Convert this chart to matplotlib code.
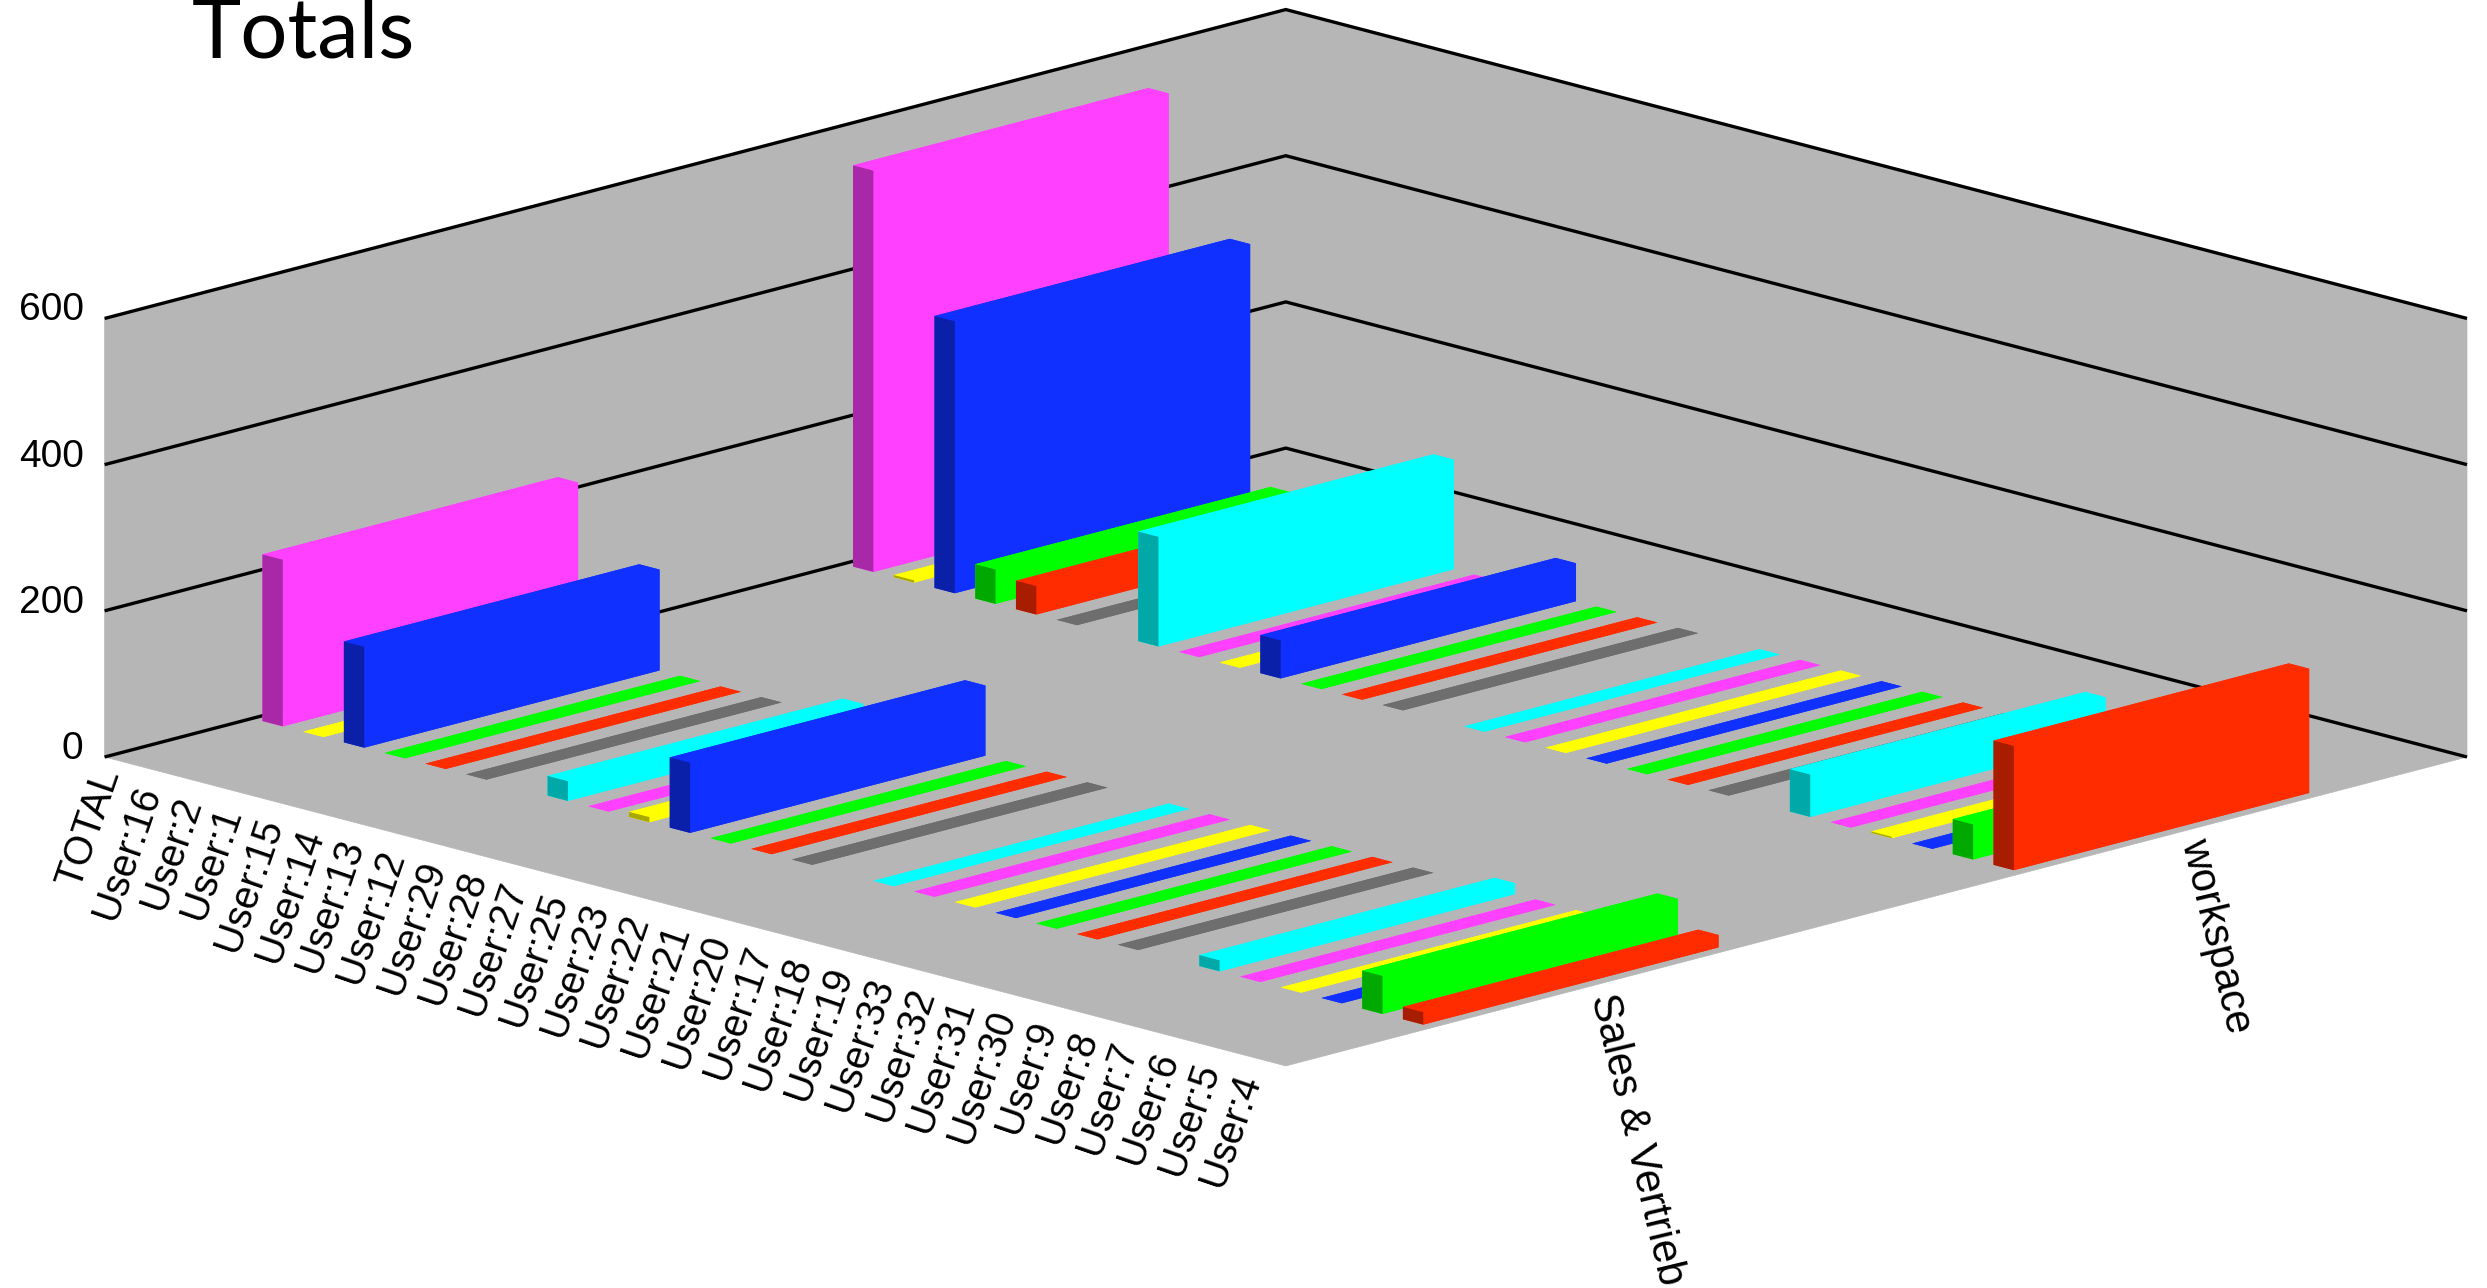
import numpy as np
import matplotlib
matplotlib.use("Agg")
import matplotlib.pyplot as plt
from mpl_toolkits.mplot3d import proj3d
from mpl_toolkits.mplot3d.art3d import Poly3DCollection

users = ["TOTAL", "User:16", "User:2", "User:1", "User:15", "User:14", "User:13", "User:12",
         "User:29", "User:28", "User:27", "User:25", "User:23", "User:22", "User:21", "User:20",
         "User:17", "User:18", "User:19", "User:33", "User:32", "User:31", "User:30", "User:9",
         "User:8", "User:7", "User:6", "User:5", "User:4"]
groups = ["Sales & Vertrieb", "workspace"]
z_ticks = [0, 200, 400, 600]

# None = no bar in that slot
sales = [228, 0, 138, 0, 0, 0, None,
         27, 0, 7, 96, 0, 0, 0, None,
         0, 0, 0, 0, 0, 0, 0, None,
         15, 0, 0, 0, 52, 17]
workspace = [549, 3, 372, 47, 39, 0, None,
             150, 0, 0, 52, 0, 0, 0, None,
             0, 0, 0, 0, 0, 0, 0, None,
             58, 0, 2, 0, 48, 170]

bar_colors = ["#FF40FF", "#FFFF00", "#0F30FF", "#00FF00", "#FF2C00", "#6E6E6E", None,
              "#00FFFF", "#FF40FF", "#FFFF00", "#0F30FF", "#00FF00", "#FF2C00", "#6E6E6E", None,
              "#00FFFF", "#FF40FF", "#FFFF00", "#0F30FF", "#00FF00", "#FF2C00", "#6E6E6E", None,
              "#00FFFF", "#FF40FF", "#FFFF00", "#0F30FF", "#00FF00", "#FF2C00"]
dark_colors = {"#FF40FF": "#A828A8", "#FFFF00": "#A8A800", "#0F30FF": "#0A20A8", "#00FF00": "#00A800",
               "#FF2C00": "#A81D00", "#6E6E6E": "#484848", "#00FFFF": "#00A8A8"}
WALL = "#B6B6B6"
FONT = "Liberation Sans"

W, H = 2487, 1288
fig = plt.figure(figsize=(W / 100, H / 100), dpi=100, facecolor="white")
ax = fig.add_subplot(projection="3d", computed_zorder=False, proj_type="ortho")
ax.set_axis_off()
ax.patch.set_alpha(0)

nx, ny, zmax = len(users), len(groups), z_ticks[-1]

# walls and floor
floor = [[(0, 0, 0), (nx, 0, 0), (nx, ny, 0), (0, ny, 0)],
         [(0, 0, 0), (0, ny, 0), (0, ny, zmax), (0, 0, zmax)],
         [(0, ny, 0), (nx, ny, 0), (nx, ny, zmax), (0, ny, zmax)]]
wall = Poly3DCollection(floor, facecolors=WALL, edgecolors=WALL, linewidths=0.5, zorder=1)
ax.add_collection3d(wall)
wall.set_clip_on(False)
for z in z_ticks:
    line, = ax.plot([0, 0, nx], [0, ny, ny], [z, z, z], color="black", lw=2.4, zorder=2,
                    solid_joinstyle="miter", solid_capstyle="butt")
    line.set_clip_on(False)

# bars, back row first, then left to right
order = 10
for r, row in reversed(list(enumerate([sales, workspace]))):
    for i, v in enumerate(row):
        if v is None:
            continue
        c, d = bar_colors[i], dark_colors[bar_colors[i]]
        # faces: -z, +z, -y, +y, -x, +x
        bar = ax.bar3d(i + 0.25, r + 0.25, 0, 0.5, 0.5, v, color=[c, c, d, c, c, c],
                       shade=False, linewidth=0, edgecolor="none", zorder=order)
        bar.set_clip_on(False)
        order += 1

ax.set_xlim(0, nx, view_margin=0)
ax.set_ylim(0, ny, view_margin=0)
ax.set_zlim(0, zmax, view_margin=0)
ax.set_box_aspect((1, 1, 0.272))
ax.view_init(elev=15.16, azim=-45)

# text, anchored at projected 3D points so that the rotation stays in screen space
def label(x, y, z, s, **kw):
    x2, y2, _ = proj3d.proj_transform(x, y, z, ax.get_proj())
    ax.text2D(x2, y2, s, transform=ax.transData, family=FONT, zorder=500, clip_on=False, **kw)

for z in z_ticks:
    label(-0.515, 0, z + 3.5, str(z), ha="right", va="center", fontsize=28)
for i, name in enumerate(users):
    label(i + 0.5, -0.01, -12 if i == 0 else -22.6, name, ha="right", va="baseline",
          rotation=71, rotation_mode="anchor", fontsize=28.5)
for j, name in enumerate(groups):
    label(nx + 0.5, j + 0.5, 0, name, ha="left", va="center", rotation=-76.5, rotation_mode="anchor", fontsize=30)
fig.text(192 / W, 1 - 57 / H, "Totals", fontsize=60, family="Lato", ha="left", va="baseline")

# fit the box to the frame
def corner_px():
    M = ax.get_proj()
    x, y, _ = proj3d.proj_transform(np.array([0, nx, nx]), np.array([0, 0, ny]), np.zeros(3), M)
    return ax.transData.transform(np.c_[x, y])

side, left, bottom = 2400.0, 40.0, -500.0
for _ in range(4):
    ax.set_position([left / W, bottom / H, side / W, side / H])
    ax.apply_aspect()
    p = corner_px()
    side *= (2467 - 104.6) / (p[2, 0] - p[0, 0])
    ax.set_position([left / W, bottom / H, side / W, side / H])
    ax.apply_aspect()
    p = corner_px()
    left += 104.6 - p[0, 0]
    bottom += (H - 757) - p[0, 1]
ax.set_position([left / W, bottom / H, side / W, side / H])

fig.savefig("out.png", dpi=100)
